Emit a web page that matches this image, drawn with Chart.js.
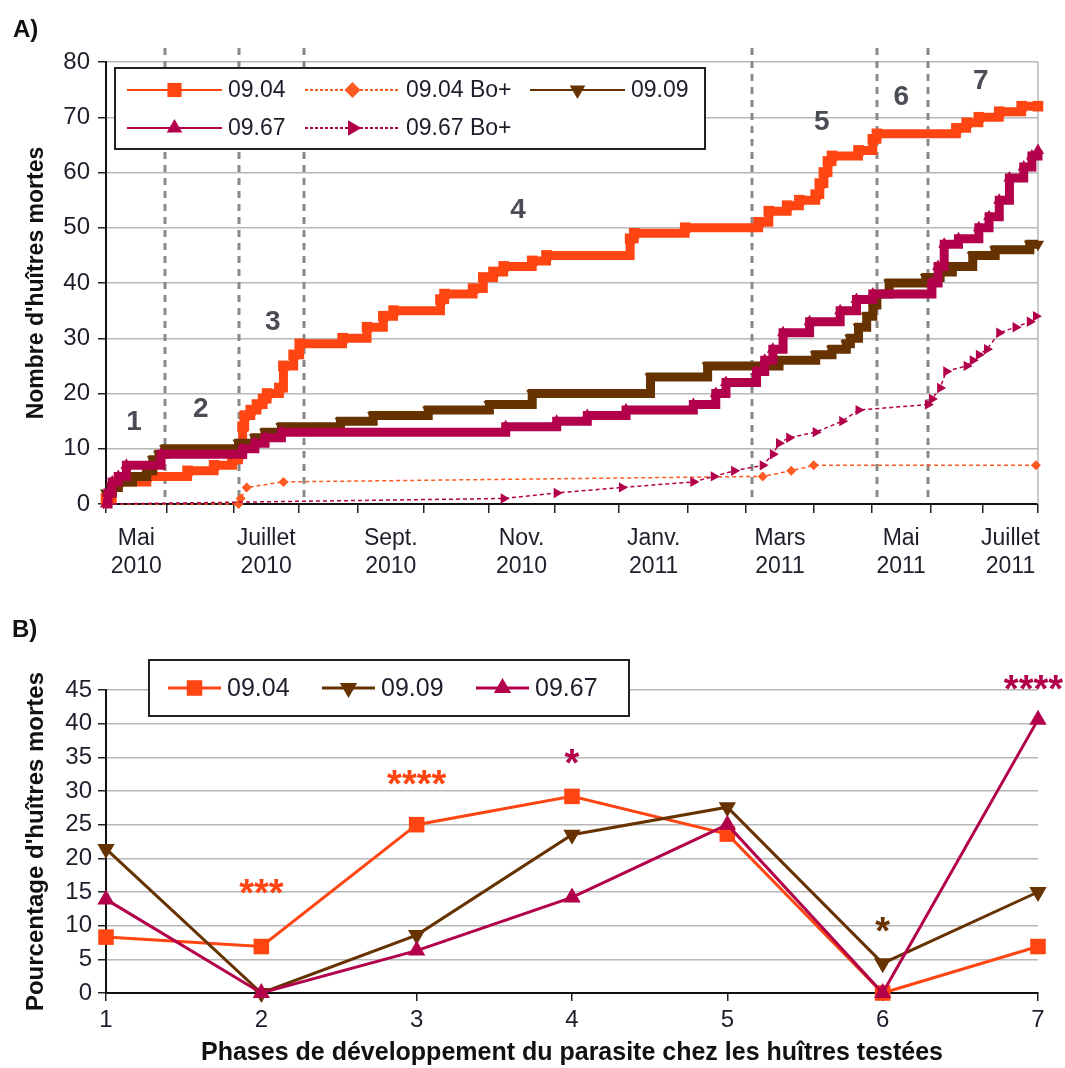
<!DOCTYPE html>
<html>
<head>
<meta charset="utf-8">
<script src="https://cdn.jsdelivr.net/npm/chart.js@4.4.1/dist/chart.umd.min.js"></script>
<style>
  html, body { margin: 0; padding: 0; background: #fff; }
  #boxA { position: absolute; left: 0; top: 0; }
  #boxB { position: absolute; left: 0; top: 590px; }
</style>
</head>
<body>
<div id="boxA"><canvas id="chartA" width="1065" height="590"></canvas></div>
<div id="boxB"><canvas id="chartB" width="1065" height="478"></canvas></div>
<script>
// ---------- A) cumulative mortality ----------
// x positions along the time axis (0 = start of May 2010, 457 = end of July 2011)
const monthTicks = [0, 29.7, 62.5, 94.6, 123.5, 155.8, 187.6, 219.9, 251.6, 285.5, 313.8, 347.2, 375.6, 404.2, 430, 457];
const monthLabels = [["Mai", "2010"], ["Juillet", "2010"], ["Sept.", "2010"], ["Nov.", "2010"],
                     ["Janv.", "2011"], ["Mars", "2011"], ["Mai", "2011"], ["Juillet", "2011"]];

const day0904 = [0, 1, 3, 6, 20, 40, 53, 62, 65, 67, 68, 71, 74, 77, 79, 85, 87, 92, 95, 116,
                 128, 136, 141, 164, 166, 180, 185, 190, 195, 209, 216, 257, 259, 284, 320, 325, 334, 340, 348, 350,
                 352, 354, 356, 369, 376, 378, 417, 422, 428, 438, 449, 457];
const val0904 = [1, 1, 3, 4, 5, 6, 7, 8, 9, 14, 16, 17, 18, 19, 20, 21, 25, 27, 29, 30,
                 32, 34, 35, 37, 38, 39, 41, 42, 43, 44, 45, 48, 49, 50, 51, 53, 54, 55, 56, 58,
                 60, 62, 63, 64, 66, 67, 68, 69, 70, 71, 72, 72];

const day0904Bo = [0, 65, 66, 69, 87, 322, 336, 347, 456];
const val0904Bo = [0, 0, 1, 3, 4, 5, 6, 7, 7];

const day0909 = [0, 3, 6, 13, 20, 23, 26, 29, 65, 73, 78, 86, 115, 131, 158, 188, 209, 267, 295, 330,
                 348, 356, 363, 365, 369, 373, 376, 378, 384, 402, 409, 415, 425, 436, 453, 457];
const val0909 = [2, 3, 4, 5, 6, 8, 9, 10, 11, 12, 13, 14, 15, 16, 17, 18, 20, 23, 25, 26,
                 27, 28, 29, 30, 32, 34, 36, 38, 40, 41, 42, 43, 45, 46, 47, 47];

const day0967 = [0, 1, 3, 6, 10, 27, 67, 73, 78, 86, 196, 221, 236, 255, 288, 299, 304, 319, 323, 327,
                 332, 345, 360, 368, 376, 405, 408, 411, 418, 428, 433, 438, 443, 450, 454, 457];
const val0967 = [0, 2, 4, 5, 7, 9, 10, 11, 12, 13, 14, 15, 16, 17, 18, 20, 22, 24, 26, 28,
                 31, 33, 35, 37, 38, 40, 43, 47, 48, 50, 52, 55, 59, 61, 63, 64];

const day0967Bo = [0, 195, 221, 253, 288, 298, 308, 322, 327, 330, 335, 348, 361, 369, 403, 405, 409, 412, 422, 425,
                   428, 432, 438, 446, 453, 456];
const val0967Bo = [0, 1, 2, 3, 4, 5, 6, 7, 9, 11, 12, 13, 15, 17, 18, 19, 21, 24, 25, 26,
                   27, 28, 31, 32, 33, 34];

// phase boundaries and phase numbers
const phaseBounds = [29, 65, 97, 317, 378, 403];
const phaseNames = ["1", "2", "3", "4", "5", "6", "7"];
const phaseNameX = [13.7, 46.5, 81.8, 202, 351, 390, 429];
const phaseNameY = [14.8, 17.2, 32.8, 53.2, 69, 73.7, 76.5];

// ---------- B) mortality per phase ----------
const phases = [1, 2, 3, 4, 5, 6, 7];
const pct0904 = [8.3, 6.9, 25.0, 29.2, 23.6, 0, 6.9];
const pct0909 = [21.4, 0, 8.6, 23.5, 27.6, 4.4, 15.0];
const pct0967 = [13.9, 0, 6.3, 14.2, 25.0, 0, 40.6];

const sigPhase = [2, 3, 4, 6, 7];
const sigText = ["***", "****", "*", "*", "****"];
const sigSeries = [0, 0, 2, 1, 2];
const sigLevel = [15.8, 32, 35.1, 10.1, 46.1];

// ---------- styles ----------
const FONT = '"Liberation Sans", Arial, sans-serif';
const TXT = '#1e1e2a';
const ORANGE = '#ff4512', ORANGE_BO = '#ff5a22', BROWN = '#663300', CRIMSON = '#b3004b';
Chart.defaults.font.family = FONT;
Chart.defaults.color = TXT;

const pts = (xs, ys) => xs.map((x, i) => ({ x: x, y: ys[i] }));

function drawMarker(ctx, style, rotDeg, r, x, y, color) {
  ctx.save();
  ctx.translate(x, y);
  ctx.rotate((rotDeg || 0) * Math.PI / 180);
  ctx.fillStyle = color;
  ctx.beginPath();
  if (style === 'rect') {
    const s = r * Math.SQRT1_2;
    ctx.rect(-s, -s, 2 * s, 2 * s);
  } else if (style === 'rectRot') {
    ctx.moveTo(0, -r); ctx.lineTo(r, 0); ctx.lineTo(0, r); ctx.lineTo(-r, 0); ctx.closePath();
  } else {
    const a = 2 * Math.PI / 3;
    ctx.moveTo(0, -r);
    ctx.lineTo(r * Math.sin(a), -r * Math.cos(a));
    ctx.lineTo(r * Math.sin(2 * a), -r * Math.cos(2 * a));
    ctx.closePath();
  }
  ctx.fill();
  ctx.restore();
}

// legend box drawn inside the plot, line + marker + text like the original
function drawLegend(chart, o) {
  const ctx = chart.ctx;
  ctx.save();
  ctx.fillStyle = '#fff';
  ctx.fillRect(o.x, o.y, o.w, o.h);
  ctx.strokeStyle = '#222';
  ctx.lineWidth = 2;
  ctx.strokeRect(o.x, o.y, o.w, o.h);
  chart.data.datasets.forEach((ds, i) => {
    const c = i % o.cols.length, r = Math.floor(i / o.cols.length);
    const x0 = o.cols[c], y = o.rows[r];
    ctx.strokeStyle = ds.borderColor;
    ctx.lineWidth = o.lineWidth;
    ctx.setLineDash(ds.borderDash ? [3, 2] : []);
    ctx.beginPath();
    ctx.moveTo(x0, y);
    ctx.lineTo(x0 + o.lineLen, y);
    ctx.stroke();
    ctx.setLineDash([]);
    drawMarker(ctx, ds.pointStyle, ds.pointRotation, o.radius[ds.pointStyle], x0 + o.lineLen / 2, y, ds.backgroundColor);
    ctx.fillStyle = TXT;
    ctx.font = o.font + 'px ' + FONT;
    ctx.textAlign = 'left';
    ctx.textBaseline = 'middle';
    ctx.fillText(ds.label, x0 + o.lineLen + 6, y + 1);
  });
  ctx.restore();
}

function drawPanelLetter(ctx, txt, x, y) {
  ctx.save();
  ctx.fillStyle = '#111';
  ctx.font = 'bold 24px ' + FONT;
  ctx.textAlign = 'left';
  ctx.textBaseline = 'middle';
  ctx.fillText(txt, x, y);
  ctx.restore();
}

const phasePlugin = {
  id: 'phasePlugin',
  beforeDatasetsDraw(chart) {
    const { ctx, chartArea: a, scales: { x } } = chart;
    ctx.save();
    ctx.strokeStyle = '#b8b8b8';
    ctx.lineWidth = 1.5;
    ctx.beginPath();
    ctx.moveTo(a.right, a.top);
    ctx.lineTo(a.right, a.bottom);
    ctx.stroke();
    ctx.strokeStyle = '#8a8a8a';
    ctx.lineWidth = 3;
    ctx.setLineDash([7, 6]);
    phaseBounds.forEach(d => {
      const px = Math.round(x.getPixelForValue(d));
      ctx.beginPath();
      ctx.moveTo(px, a.top - 14);
      ctx.lineTo(px, a.bottom - 4);
      ctx.stroke();
    });
    ctx.restore();
  },
  afterDatasetsDraw(chart) {
    const { ctx, scales: { x, y } } = chart;
    ctx.save();
    ctx.fillStyle = '#4a4d55';
    ctx.font = 'bold 28px ' + FONT;
    ctx.textAlign = 'center';
    ctx.textBaseline = 'middle';
    phaseNames.forEach((t, i) => {
      ctx.fillText(t, x.getPixelForValue(phaseNameX[i]), y.getPixelForValue(phaseNameY[i]));
    });
    ctx.restore();
    drawLegend(chart, {
      x: 115, y: 68, w: 590, h: 81, cols: [127, 305, 530], rows: [90, 128],
      lineLen: 95, lineWidth: 2, font: 23, radius: { rect: 10, rectRot: 8, triangle: 9 }
    });
    drawPanelLetter(ctx, 'A)', 13, 30);
  }
};

// stepped 'before': the value holds until the next point, then jumps
new Chart(document.getElementById('chartA'), {
  type: 'line',
  data: {
    datasets: [
      { label: '09.04', data: pts(day0904, val0904), borderColor: ORANGE, backgroundColor: ORANGE,
        borderWidth: 9, stepped: 'before', borderJoinStyle: 'miter', pointStyle: 'rect', pointRadius: 7.5,
        pointBorderWidth: 0, order: 5, clip: false },
      { label: '09.04 Bo+', data: pts(day0904Bo, val0904Bo), borderColor: ORANGE_BO, backgroundColor: ORANGE_BO,
        borderWidth: 1.5, borderDash: [4, 3], pointStyle: 'rectRot', pointRadius: 5,
        pointBorderWidth: 0, order: 4, clip: false },
      { label: '09.09', data: pts(day0909, val0909), borderColor: BROWN, backgroundColor: BROWN,
        borderWidth: 9, stepped: 'before', borderJoinStyle: 'miter', pointStyle: 'triangle', pointRotation: 180,
        pointRadius: 7, pointBorderWidth: 0, order: 3, clip: false },
      { label: '09.67', data: pts(day0967, val0967), borderColor: CRIMSON, backgroundColor: CRIMSON,
        borderWidth: 9, stepped: 'before', borderJoinStyle: 'miter', pointStyle: 'triangle',
        pointRadius: 7, pointBorderWidth: 0, order: 2, clip: false },
      { label: '09.67 Bo+', data: pts(day0967Bo, val0967Bo), borderColor: CRIMSON, backgroundColor: CRIMSON,
        borderWidth: 1.5, borderDash: [4, 3], pointStyle: 'triangle', pointRotation: 90, pointRadius: 6,
        pointBorderWidth: 0, order: 1, clip: false }
    ]
  },
  options: {
    responsive: false,
    animation: false,
    devicePixelRatio: 1,
    layout: { padding: { top: 62, right: 27, left: 0, bottom: 0 } },
    plugins: { legend: { display: false }, tooltip: { enabled: false } },
    scales: {
      x: {
        type: 'linear', min: 0, max: 457, weight: 0,
        afterBuildTicks: s => { s.ticks = monthTicks.map(v => ({ value: v })); },
        ticks: { display: false },
        grid: { drawOnChartArea: false, drawTicks: true, tickLength: 9, color: '#222', lineWidth: 1.5 },
        border: { color: '#111', width: 2 },
        afterFit: s => { s.height = 8; }
      },
      xl: {
        type: 'linear', position: 'bottom', min: 0, max: 457, weight: 1,
        afterBuildTicks: s => {
          s.ticks = monthLabels.map((_, k) => ({ value: (monthTicks[2 * k] + monthTicks[2 * k + 1]) / 2 }));
        },
        ticks: { autoSkip: false, maxRotation: 0, padding: 13, color: TXT, font: { size: 23 },
                 callback: (v, i) => monthLabels[i] },
        grid: { display: false, drawTicks: false },
        border: { display: false },
        afterFit: s => { s.height = 78; }
      },
      y: {
        min: 0, max: 80,
        ticks: { stepSize: 10, padding: 8, color: TXT, font: { size: 24 } },
        grid: { color: '#b8b8b8', lineWidth: 1.5, tickColor: '#222', tickLength: 8 },
        border: { color: '#111', width: 2 },
        title: { display: true, text: "Nombre d'huîtres mortes", color: '#111',
                 font: { size: 23, weight: 'bold' }, padding: { top: 23, bottom: 0 } },
        afterFit: s => { s.width = 106; }
      }
    }
  },
  plugins: [phasePlugin]
});

// ---------- B ----------
const sigPlugin = {
  id: 'sigPlugin',
  afterDatasetsDraw(chart) {
    const { ctx, scales: { x, y } } = chart;
    ctx.save();
    ctx.font = 'bold 38px ' + FONT;
    ctx.textAlign = 'center';
    ctx.textBaseline = 'alphabetic';
    sigText.forEach((t, i) => {
      const m = ctx.measureText(t);
      let px = x.getPixelForValue(sigPhase[i]);
      px = Math.min(px, chart.width - m.width / 2 - 2);
      const py = y.getPixelForValue(sigLevel[i]) + (m.actualBoundingBoxAscent - m.actualBoundingBoxDescent) / 2;
      ctx.fillStyle = chart.data.datasets[sigSeries[i]].borderColor;
      ctx.fillText(t, px, py);
    });
    ctx.restore();
    drawLegend(chart, {
      x: 149, y: 70, w: 480, h: 56, cols: [168, 322, 476], rows: [98],
      lineLen: 53, lineWidth: 3, font: 25, radius: { rect: 11, rectRot: 8, triangle: 10 }
    });
    drawPanelLetter(ctx, 'B)', 12, 40);
  }
};

new Chart(document.getElementById('chartB'), {
  type: 'line',
  data: {
    datasets: [
      { label: '09.04', data: pts(phases, pct0904), borderColor: ORANGE, backgroundColor: ORANGE,
        borderWidth: 3, pointStyle: 'rect', pointRadius: 11, pointBorderWidth: 0, order: 3, clip: false },
      { label: '09.09', data: pts(phases, pct0909), borderColor: BROWN, backgroundColor: BROWN,
        borderWidth: 3, pointStyle: 'triangle', pointRotation: 180, pointRadius: 10, pointBorderWidth: 0,
        order: 2, clip: false },
      { label: '09.67', data: pts(phases, pct0967), borderColor: CRIMSON, backgroundColor: CRIMSON,
        borderWidth: 3, pointStyle: 'triangle', pointRadius: 10, pointBorderWidth: 0, order: 1, clip: false }
    ]
  },
  options: {
    responsive: false,
    animation: false,
    devicePixelRatio: 1,
    layout: { padding: { top: 100, right: 27, left: 0, bottom: 0 } },
    plugins: { legend: { display: false }, tooltip: { enabled: false } },
    scales: {
      x: {
        type: 'linear', min: 1, max: 7,
        ticks: { stepSize: 1, padding: 5, color: TXT, font: { size: 24 } },
        grid: { drawOnChartArea: false, tickLength: 8, color: '#222', lineWidth: 1.5 },
        border: { color: '#111', width: 2 },
        title: { display: true, text: 'Phases de développement du parasite chez les huîtres testées',
                 color: '#111', font: { size: 25, weight: 'bold' }, padding: { top: 0, bottom: 0 } },
        afterFit: s => { s.height = 75; }
      },
      y: {
        min: 0, max: 45,
        ticks: { stepSize: 5, padding: 6, color: TXT, font: { size: 24 } },
        grid: { color: '#b8b8b8', lineWidth: 1.5, tickColor: '#222', tickLength: 8 },
        border: { color: '#111', width: 2 },
        title: { display: true, text: "Pourcentage d'huîtres mortes", color: '#111',
                 font: { size: 24, weight: 'bold' }, padding: { top: 22, bottom: 0 } },
        afterFit: s => { s.width = 106; }
      }
    }
  },
  plugins: [sigPlugin]
});
</script>
</body>
</html>
